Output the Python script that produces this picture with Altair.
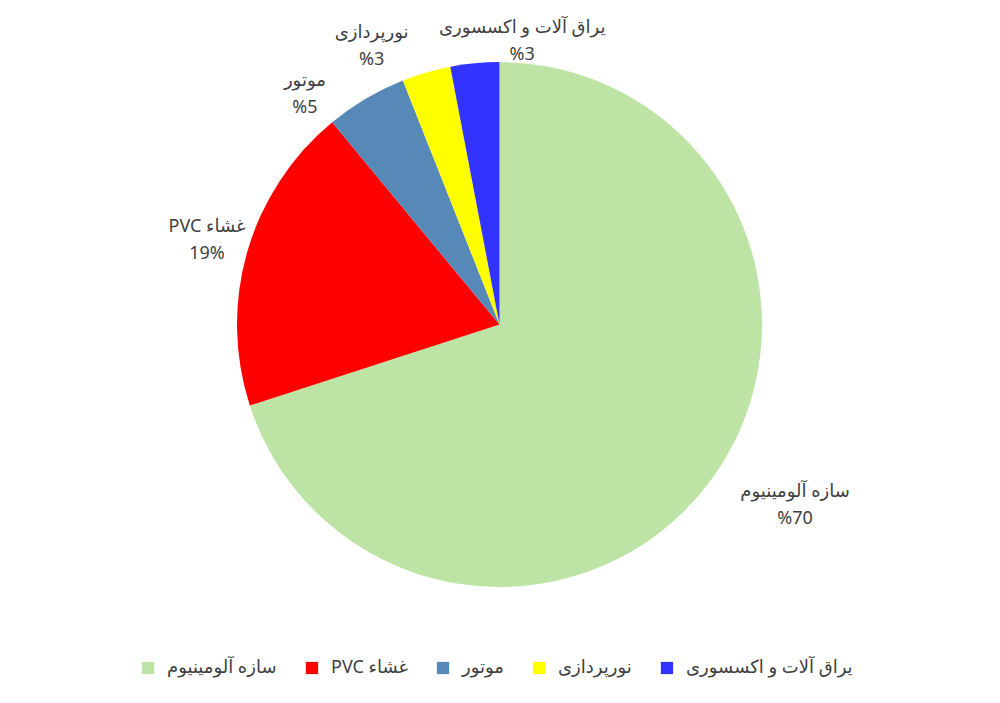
import altair as alt
import pandas as pd

categories = ["سازه آلومینیوم", "PVC غشاء", "موتور", "نورپردازی", "یراق آلات و اکسسوری"]
values = [70, 19, 5, 3, 3]
pct_labels = ["%70", "19%", "%5", "%3", "%3"]
colors = ["#BDE4A4", "#FF0000", "#5689B8", "#FFFF00", "#3333FF"]

df = pd.DataFrame({
    "cat": categories,
    "value": values,
    "pct": pct_labels,
    "order": list(range(len(categories))),
})
df["label"] = df["cat"] + "\n" + df["pct"]

FONT = "Noto Sans, DejaVu Sans, sans-serif"
TXT = "#404040"

color_scale = alt.Scale(domain=categories, range=colors)

base = alt.Chart(df)

pie = base.mark_arc(outerRadius=262.5).encode(
    theta=alt.Theta("value:Q", stack=True),
    color=alt.Color(
        "cat:N",
        scale=color_scale,
        sort=categories,
        legend=alt.Legend(
            title=None,
            orient="none",
            legendX=131,
            legendY=651,
            direction="horizontal",
            symbolType="square",
            symbolSize=150,
            symbolStrokeWidth=0,
            labelFont=FONT,
            labelFontSize=18,
            labelColor=TXT,
            labelOffset=10,
            columnPadding=26,
            labelLimit=300,
        ),
    ),
    order=alt.Order("order:Q"),
)

label_base = base.transform_window(
    cum="sum(value)", sort=[alt.SortField("order")], frame=[None, 0]
).transform_joinaggregate(
    total="sum(value)"
).transform_calculate(
    mid="(datum.cum - datum.value / 2) / datum.total"
)

offsets = {
    categories[0]: (61, -3),
    categories[1]: (-14, -17),
    categories[2]: (-47, 6),
    categories[3]: (-47, -13),
    categories[4]: (50, -8),
}

label_layers = []
for cat in categories:
    dx, dy = offsets[cat]
    label_layers.append(
        label_base.transform_filter(alt.datum.cat == cat).mark_text(
            radius=290,
            align="center",
            baseline="middle",
            lineBreak="\n",
            lineHeight=27,
            font=FONT,
            fontSize=18,
            color=TXT,
            dx=dx,
            dy=dy,
        ).encode(
            theta=alt.Theta("mid:Q", scale=alt.Scale(domain=[0, 1])),
            text="label:N",
        )
    )

labels = alt.layer(*label_layers)

chart = alt.layer(pie, labels).resolve_scale(theta="independent").properties(
    width=983,
    height=633,
    autosize=alt.AutoSizeParams(type="none"),
    padding={"left": 0, "top": 0, "right": 0, "bottom": 54},
    background="white",
).configure_view(stroke=None)

chart.save("out.html", embed_options={"renderer": "svg", "actions": False})
